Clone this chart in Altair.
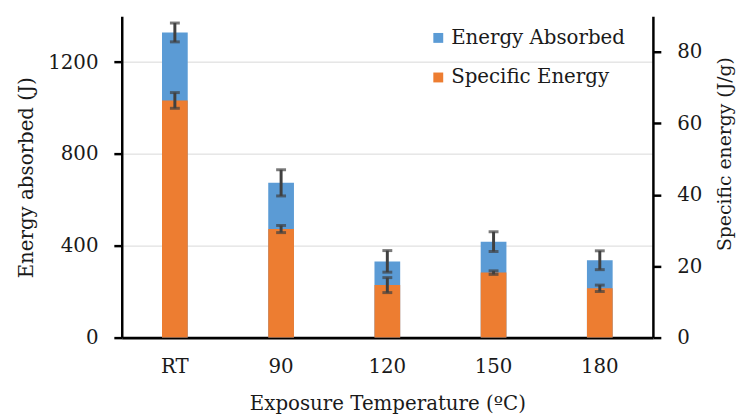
import altair as alt
import pandas as pd

cats = ["RT", "90", "120", "150", "180"]
energy = [1329, 674, 332, 418, 337]
energy_err = [41, 57, 47, 43, 41]
specific = [66.4, 30.4, 14.7, 18.2, 13.8]
specific_err = [2.2, 1.0, 2.1, 0.5, 0.9]

df = pd.DataFrame({
    "cat": cats,
    "ea": energy,
    "ea_err": energy_err,
    "se": specific,
    "se_err": specific_err,
})

FONT = "DejaVu Serif"
TXT = "#1a1a1a"
ERR = "#404040"
W = 537

color_scale = alt.Scale(domain=["Energy Absorbed", "Specific Energy"],
                        range=["#5B9BD5", "#ED7D31"])
legend = alt.Legend(orient="none", legendX=310, legendY=12, title=None,
                    symbolType="square", symbolSize=100, symbolStrokeWidth=0,
                    labelFontSize=20, labelFont=FONT, labelColor=TXT,
                    labelLimit=400,
                    rowPadding=20, labelOffset=3, padding=0)

x_enc = alt.X("cat:N", sort=cats, title="Exposure Temperature (ºC)",
              scale=alt.Scale(paddingInner=0, paddingOuter=0),
              axis=alt.Axis(labelAngle=0, ticks=False, tickSize=0, grid=False,
                            domainColor="black", domainWidth=3,
                            labelFont=FONT, labelFontSize=20, labelColor=TXT,
                            labelPadding=19,
                            titleFont=FONT, titleFontSize=20, titleColor=TXT,
                            titleFontWeight="normal",
                            titleX=W / 2, titleY=67, titleBaseline="middle"))

base = alt.Chart(df).transform_calculate(
    ea_lo="datum.ea - datum.ea_err", ea_hi="datum.ea + datum.ea_err",
    se_lo="datum.se - datum.se_err", se_hi="datum.se + datum.se_err",
)

left_scale = alt.Scale(domain=[0, 1400], nice=False)
right_scale = alt.Scale(domain=[0, 90], nice=False)
LT = "Energy absorbed (J)"
RTT = "Specific energy (J/g)"

left_axis = alt.Axis(values=[0, 400, 800, 1200], format="d", grid=True,
                     gridColor="#d9d9d9",
                     gridWidth=1, domainColor="black", domainWidth=2.5,
                     tickColor="black", tickWidth=2.5, tickSize=8,
                     labelFont=FONT, labelFontSize=20, labelColor=TXT,
                     labelPadding=16, titleFont=FONT, titleFontSize=20,
                     titleColor=TXT, titleFontWeight="normal",
                     titleAngle=-90, titleX=-96, titleY=163,
                     titleAlign="center", titleBaseline="middle")
right_axis = alt.Axis(orient="right", values=[0, 20, 40, 60, 80], format="d",
                      grid=False,
                      domainColor="black", domainWidth=2.5,
                      tickColor="black", tickWidth=2.5, tickSize=8,
                      labelFont=FONT, labelFontSize=20, labelColor=TXT,
                      labelPadding=16, titleFont=FONT, titleFontSize=19,
                      titleColor=TXT, titleFontWeight="normal",
                      titleAngle=-90, titleX=72, titleY=139,
                      titleAlign="center", titleBaseline="middle")

blue_bar = base.transform_calculate(series="'Energy Absorbed'").mark_bar(size=26).encode(
    x=x_enc,
    y=alt.Y("ea:Q", scale=left_scale, axis=left_axis, title=LT),
    color=alt.Color("series:N", scale=color_scale, legend=legend),
)
blue_rule = base.mark_rule(color=ERR, strokeWidth=3).encode(
    x=x_enc,
    y=alt.Y("ea_lo:Q", scale=left_scale, axis=left_axis, title=LT), y2="ea_hi:Q")
blue_lo = base.mark_tick(color=ERR, size=10, thickness=3).encode(
    x=x_enc, y=alt.Y("ea_lo:Q", scale=left_scale, axis=left_axis, title=LT))
blue_hi = base.mark_tick(color=ERR, size=10, thickness=3).encode(
    x=x_enc, y=alt.Y("ea_hi:Q", scale=left_scale, axis=left_axis, title=LT))

orange_bar = base.transform_calculate(series="'Specific Energy'").mark_bar(size=26).encode(
    x=x_enc,
    y=alt.Y("se:Q", scale=right_scale, axis=right_axis, title=RTT),
    color=alt.Color("series:N", scale=color_scale, legend=legend),
)
orange_rule = base.mark_rule(color=ERR, strokeWidth=3).encode(
    x=x_enc,
    y=alt.Y("se_lo:Q", scale=right_scale, axis=right_axis, title=RTT), y2="se_hi:Q")
orange_lo = base.mark_tick(color=ERR, size=10, thickness=3).encode(
    x=x_enc, y=alt.Y("se_lo:Q", scale=right_scale, axis=right_axis, title=RTT))
orange_hi = base.mark_tick(color=ERR, size=10, thickness=3).encode(
    x=x_enc, y=alt.Y("se_hi:Q", scale=right_scale, axis=right_axis, title=RTT))

left_layer = alt.layer(blue_bar, blue_rule, blue_lo, blue_hi)
right_layer = alt.layer(orange_bar, orange_rule, orange_lo, orange_hi)

chart = alt.layer(left_layer, right_layer).resolve_scale(
    y="independent"
).properties(
    width=W, height=325,
    autosize=alt.AutoSizeParams(type="none"),
    padding={"left": 115, "top": 6, "right": 84, "bottom": 76},
    background="white",
).configure_view(stroke=None)

chart.save("out.html", embed_options={"renderer": "svg", "actions": False})
